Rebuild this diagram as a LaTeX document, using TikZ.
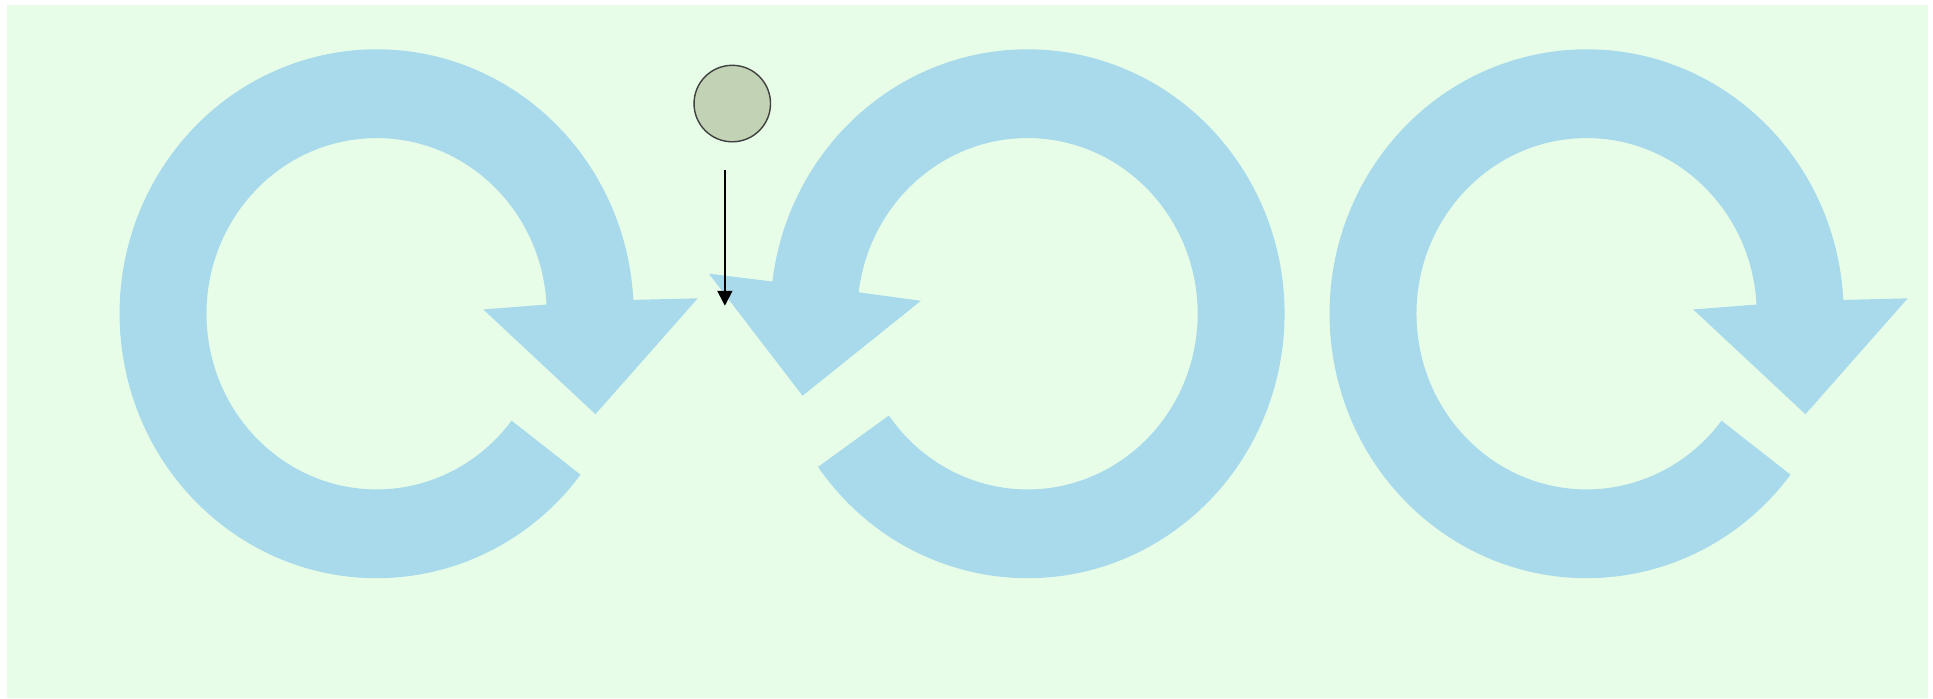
\documentclass[tikz,border=0pt]{standalone}
\usetikzlibrary{arrows.meta}
\definecolor{bgmint}{RGB}{232,253,232}
\definecolor{cyclblue}{RGB}{168,218,236}
\definecolor{ballgrey}{RGB}{194,210,180}

\begin{document}
\begin{tikzpicture}[x=0.024656cm, y=-0.024656cm,
    cycle arrow/.style={fill=cyclblue, draw=none},
    ball/.style={circle, draw=black!75, fill=ballgrey, line width=0.8pt,
      minimum size=1.53cm, inner sep=0pt}]
  \useasboundingbox (0,0) rectangle (1568,567);
  \fill[bgmint] (5.7,4.1) rectangle (1564,566.2);

  % left and right loops (clockwise)
  \foreach \cx in {305.5, 1287} {
    \begin{scope}[shift={(\cx,254.5)}]
      \fill[cycle arrow] (37.5:208.5 and 214.5)
        arc[start angle=37.5, end angle=357, x radius=208.5, y radius=214.5]
        -- (260.5,-12.5) -- (177.5,81.5) -- (86.5,-3.5) -- (357:138 and 142.5)
        arc[start angle=357, end angle=37.5, x radius=138, y radius=142.5] -- cycle;
    \end{scope}
  }

  % middle loop (counter-clockwise)
  \begin{scope}[shift={(833.5,254.5)}]
    \fill[cycle arrow] (144.6:208.5 and 214.5)
      arc[start angle=144.6, end angle=-173, x radius=208.5, y radius=214.5]
      -- (-258.5,-32.5) -- (-182.5,66.5) -- (-86.5,-10.5) -- (-173:138 and 142.5)
      arc[start angle=-173, end angle=144.6, x radius=138, y radius=142.5] -- cycle;
  \end{scope}

  \node[ball] (ball) at (594,84) {};
  \coordinate (drop top) at (588,138);
  \coordinate (drop end) at (588,248);
  \draw[line width=1pt, -{Triangle[length=8.5pt, width=8.5pt]}] (drop top) -- (drop end);
\end{tikzpicture}
\end{document}
